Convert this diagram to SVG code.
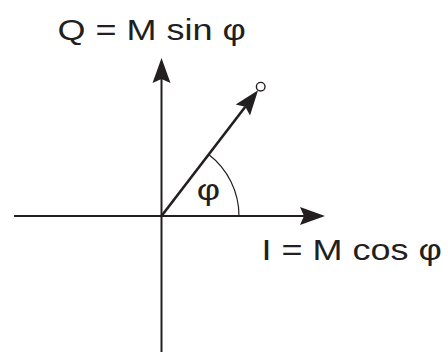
<svg xmlns="http://www.w3.org/2000/svg" width="448" height="352" viewBox="0 0 448 352">
  <style>
    .ax { stroke: #231f20; stroke-width: 2; fill: none; }
    .vec { stroke: #231f20; stroke-width: 2.6; fill: none; }
    .arc { stroke: #231f20; stroke-width: 1.2; fill: none; }
    .lbl { font-family: "Liberation Sans", Arial, sans-serif; font-size: 30px; fill: #231f20; }
  </style>
  <defs>
    <marker id="arrow" markerUnits="userSpaceOnUse" markerWidth="26" markerHeight="19" viewBox="0 0 26 19" refX="4.5" refY="9.5" orient="auto">
      <path d="M0.5,0.5 L25.5,9.5 L0.5,18.5 L4.5,9.5 Z" fill="#231f20"/>
    </marker>
  </defs>
  <rect width="448" height="352" fill="#ffffff"/>
  <g id="connectors">
    <line id="axis-i" class="ax" x1="14" y1="216" x2="304" y2="216" marker-end="url(#arrow)"/>
    <line id="axis-q" class="ax" x1="161.5" y1="352" x2="161.5" y2="79" marker-end="url(#arrow)"/>
    <line id="vector-m" class="vec" x1="161.5" y1="216" x2="245.3" y2="106.8" marker-end="url(#arrow)"/>
    <path id="angle-arc" class="arc" d="M239,216 A77.5,77.5 0 0 0 208.7,154.5"/>
  </g>
  <g id="endpoint">
    <circle cx="260.7" cy="86.7" r="4.3" fill="#ffffff" stroke="#231f20" stroke-width="1.4"/>
  </g>
  <g id="label-q">
    <text class="lbl" transform="translate(57.6,40) scale(1.2,1)">Q = M sin φ</text>
  </g>
  <g id="label-i">
    <text class="lbl" transform="translate(261.6,260) scale(1.2,1)">I = M cos φ</text>
  </g>
  <g id="label-phi">
    <text class="lbl" text-anchor="middle" transform="translate(208.5,200) scale(1.2,1)">φ</text>
  </g>
</svg>
